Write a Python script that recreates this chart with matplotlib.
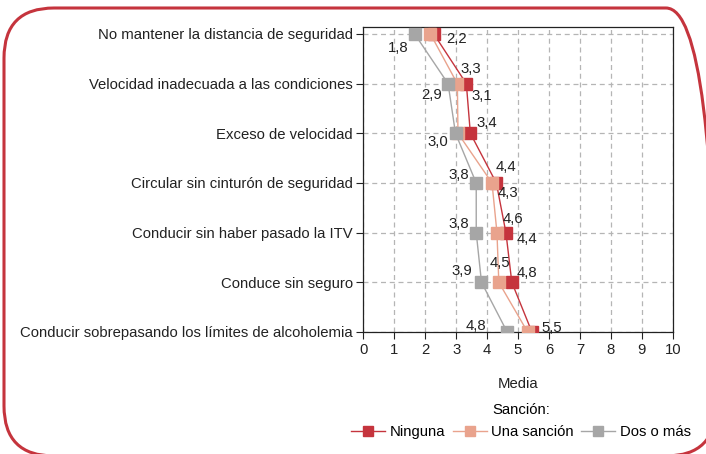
import numpy as np
import matplotlib
matplotlib.use("Agg")
import matplotlib.pyplot as plt
from matplotlib.patches import FancyBboxPatch

plt.rcParams['font.family'] = ['Liberation Sans', 'DejaVu Sans']

categories = ["No mantener la distancia de seguridad",
              "Velocidad inadecuada a las condiciones",
              "Exceso de velocidad",
              "Circular sin cinturón de seguridad",
              "Conducir sin haber pasado la ITV",
              "Conduce sin seguro",
              "Conducir sobrepasando los límites de alcoholemia"]
series_names = ["Ninguna", "Una sanción", "Dos o más"]
ninguna = [2.28, 3.33, 3.46, 4.30, 4.61, 4.80, 5.45]
una = [2.17, 3.04, 3.06, 4.16, 4.32, 4.38, 5.31]
dos = [1.66, 2.74, 2.98, 3.65, 3.65, 3.82, 4.65]
ninguna_lbl = ["2,2", "3,3", "3,4", "4,4", "4,6", "4,8", "5,5"]
una_lbl = ["", "3,1", "", "4,3", "4,4", "4,5", ""]
dos_lbl = ["1,8", "2,9", "3,0", "3,8", "3,8", "3,9", "4,8"]

colors = ["#C5343D", "#E9A38D", "#A6A6A6"]
# label offsets in pixels (dx, dy up)
off_ninguna = [(23, -5), (4, 15), (16, 10), (10, 16), (7, 14), (15, 9), (20, 4)]
off_una = [(0, 0), (24, -12), (0, 0), (16, -10), (30, -6), (1, 19), (0, 0)]
off_dos = [(-16, -14), (-16, -11), (-18, -9), (-17.5, 8), (-17.5, 9), (-20, 11), (-31.5, 6)]

fs = 10.7
fig = plt.figure(figsize=(7.06, 4.54), dpi=100)
ax = fig.add_axes([363.3 / 706, 1 - 332 / 454, (672.7 - 363.3) / 706, (332 - 27) / 454])

y = np.arange(len(categories))
for vals, lbls, offs, name, c in [(ninguna, ninguna_lbl, off_ninguna, series_names[0], colors[0]),
                                   (una, una_lbl, off_una, series_names[1], colors[1]),
                                   (dos, dos_lbl, off_dos, series_names[2], colors[2])]:
    ax.plot(vals, y, color=c, lw=1.0, marker='s', markersize=8, label=name, zorder=3)
    for xv, yv, t, (dx, dy) in zip(vals, y, lbls, offs):
        if t:
            ax.annotate(t, (xv, yv), xytext=(dx, dy), textcoords='offset pixels',
                        ha='center', va='center', fontsize=fs, color='#222222', zorder=4)

ax.set_xlim(0, 10)
ax.set_xticks(range(11))
ax.set_ylim(6, -7 / 49.7)
ax.set_yticks(y)
ax.set_yticklabels(categories)
ax.tick_params(axis='both', length=5, width=0.8, labelsize=fs, colors='#222222')
ax.tick_params(axis='y', pad=2.5)
ax.tick_params(axis='x', pad=3)
ax.grid(True, ls=(0, (4, 3)), color='#B5B5B5', lw=0.9)
ax.set_axisbelow(True)
for s in ax.spines.values():
    s.set_linewidth(0.9)
    s.set_color('#222222')
ax.set_xlabel("Media", fontsize=fs, labelpad=14, color='#222222')

leg = fig.legend(loc='center', bbox_to_anchor=(521 / 706, 1 - 421 / 454), ncol=3, frameon=False,
                 title="Sanción:", fontsize=fs, title_fontsize=fs, handlelength=2.3,
                 handletextpad=0.3, columnspacing=0.5, borderpad=0.2, labelspacing=0.2,
                 markerscale=0.85)
leg._legend_box.sep = 6

border = FancyBboxPatch((0.04, -0.02), 7.12, 4.48,
                        boxstyle="round,pad=0,rounding_size=0.5", transform=fig.dpi_scale_trans,
                        facecolor='none', edgecolor='#C5343D', lw=2.2, clip_on=False)
fig.patches.append(border)

fig.savefig("out.png", dpi=100)
